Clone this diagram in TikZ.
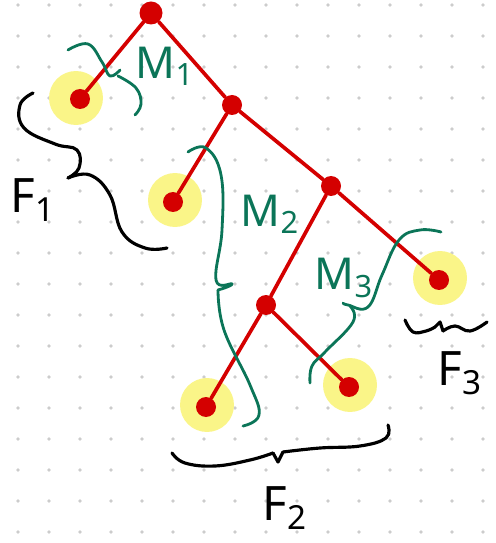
\documentclass[tikz,border=0pt]{standalone}
\usepackage{fontspec}
\setsansfont{Noto Sans}
\definecolor{inkRed}{HTML}{D40000}
\definecolor{inkGreen}{HTML}{0B7558}
\definecolor{hiYellow}{HTML}{FAF588}

\begin{document}
\begin{tikzpicture}[
  x=0.02cm, y=-0.02cm,
  font=\sffamily,
  vtx/.style={circle, fill=inkRed, inner sep=0pt, minimum size=0.40cm},
  halo/.style={circle, fill=hiYellow, inner sep=0pt, minimum size=1.08cm},
  edge/.style={draw=inkRed, line width=2.1pt, line cap=round},
  brM/.style={draw=inkGreen, line width=1.6pt, line cap=round, line join=round},
  brF/.style={draw=black, line width=1.8pt, line cap=round, line join=round},
  labM/.style={text=inkGreen, font=\sffamily\fontsize{25}{30}\selectfont},
  labF/.style={text=black, font=\sffamily\fontsize{27}{32}\selectfont}
]
\useasboundingbox (0,0) rectangle (495,543);
% dot grid
\foreach \i in {0,...,15}
  \foreach \j in {0,...,17}
    \fill[gray!40] (18+31*\i, 5+31*\j) circle[radius=1.1pt];

% highlighted leaves
\node[halo] (h1) at (76,98) {};
\node[halo] (h2) at (175,200) {};
\node[halo] (h3) at (440,278) {};
\node[halo] (h4) at (207,405) {};
\node[halo] (h5) at (350,385) {};

% tree
\node[vtx, minimum size=0.46cm] (r) at (151,13) {};
\node[vtx] (l1) at (80,99) {};
\node[vtx] (a)  at (232,105) {};
\node[vtx] (l2) at (173,202) {};
\node[vtx] (b)  at (331,186) {};
\node[vtx] (l3) at (439,280) {};
\node[vtx] (c)  at (266,305) {};
\node[vtx] (l4) at (206,407) {};
\node[vtx] (l5) at (349,387) {};

\draw[edge] (r) -- (l1);
\draw[edge] (r) -- (a);
\draw[edge] (a) -- (l2);
\draw[edge] (a) -- (b);
\draw[edge] (b) -- (c);
\draw[edge] (b) -- (l3);
\draw[edge] (c) -- (l4);
\draw[edge] (c) -- (l5);

% M braces
\draw[brM] plot[smooth, tension=0.7] coordinates {(68,50) (88,44) (102,62) (110,76) (120,70)};
\draw[brM] plot[smooth, tension=0.7] coordinates {(118,76) (136,88) (141,104) (135,115)};
\draw[brM] plot[smooth, tension=0.7] coordinates {(188,152) (206,148) (221,175) (222,230) (216,280) (232,284) (218,290)};
\draw[brM] plot[smooth, tension=0.7] coordinates {(218,290) (224,330) (250,385) (259,415) (243,426)};
\draw[brM] plot[smooth, tension=0.7] coordinates {(441,232) (420,230) (399,240) (382,275) (368,307) (348,305) (343,303)};
\draw[brM] plot[smooth, tension=0.7] coordinates {(350,306) (353,322) (325,352) (312,366) (310,383)};

% F braces
\draw[brF] plot[smooth, tension=0.7] coordinates {(33,93) (20,105) (24,128) (55,144) (77,150) (79,168) (68,178)};
\draw[brF] plot[smooth, tension=0.7] coordinates {(68,178) (90,175) (110,195) (122,232) (145,248) (167,248)};
\draw[brF] plot[smooth, tension=0.7] coordinates {(172,453) (185,463) (215,466) (250,460) (273,453)};
\draw[brF] (273,453) -- (278,462) -- (283,452);
\draw[brF] plot[smooth, tension=0.7] coordinates {(283,452) (320,448) (360,446) (386,438) (388,425)};
\draw[brF] plot[smooth, tension=0.7] coordinates {(405,320) (413,332) (426,331) (435,327)};
\draw[brF] (435,327) -- (440,322) -- (443,331);
\draw[brF] plot[smooth, tension=0.7] coordinates {(443,331) (455,326) (470,331) (487,322)};

% labels
\node[labM] (m1) at (165,66) {M\textsubscript{1}};
\node[labM] (m2) at (270,214) {M\textsubscript{2}};
\node[labM] (m3) at (344,278) {M\textsubscript{3}};
\node[labF] (f1) at (33,200) {F\textsubscript{1}};
\node[labF] (f2) at (285,508) {F\textsubscript{2}};
\node[labF] (f3) at (460,373) {F\textsubscript{3}};
\end{tikzpicture}
\end{document}
